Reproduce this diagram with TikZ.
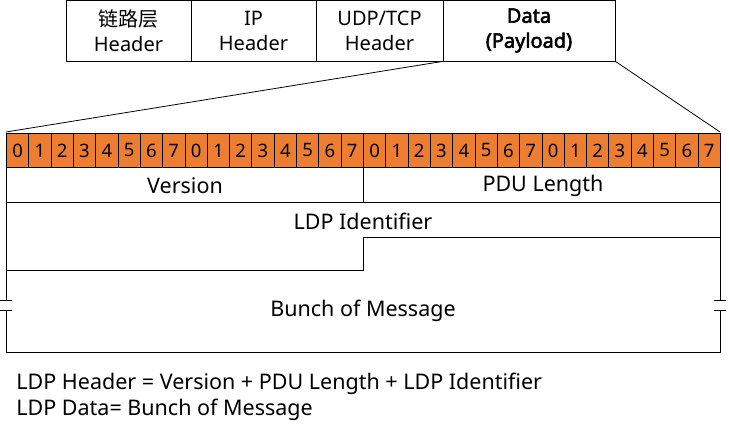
\documentclass[tikz,border=0pt]{standalone}
\usepackage{fontspec}
\setmainfont{Noto Sans}[AutoFakeBold=2.5]
\newfontfamily\cjk{Noto Sans CJK SC}
\begin{document}
\begin{tikzpicture}[x=1pt,y=-1pt,line width=0.8pt,
  lbl/.style={font=\fontsize{21.5}{23}\selectfont,inner sep=0pt},
  bit/.style={font=\fontsize{18.5}{19}\selectfont,inner sep=0pt},
  hb/.style={draw,minimum height=61pt,inner sep=0pt,align=center,font=\fontsize{20}{25}\selectfont}]
\useasboundingbox (0,0) rectangle (729,428);
\definecolor{org}{HTML}{ED7D31}
\node[hb,minimum width=125pt] (h1) at (128.5,30.5) {{\cjk 链路层}\\Header};
\node[hb,minimum width=125pt] (h2) at (253.5,30.5) {IP\\Header};
\node[hb,minimum width=127pt] (h3) at (379.5,30.5) {UDP/TCP\\Header};
\node[hb,minimum width=172pt,font=\fontsize{20}{25}\selectfont\bfseries] (h4) at (529,30.5) {Data\\(Payload)};
\coordinate (bl) at (6,132);
\coordinate (br) at (720,132);
\draw (h4.south west) -- (bl);
\draw (h4.south east) -- (br);
\foreach \i in {0,...,31}{
  \pgfmathtruncatemacro\v{mod(\i,8)}
  \node[draw,fill=org,minimum width=22.3125pt,minimum height=34pt,inner sep=0pt,anchor=north west] (b\i) at ({6+22.3125*\i},133) {};
  \node[bit] at (b\i) {\v};
}
\draw (6,167) -- (6,300);
\draw (6,310) -- (6,352) -- (720,352) -- (720,310);
\draw (720,300) -- (720,167);
\draw (0,300) -- (12,300) (0,310) -- (12,310);
\draw (714,300) -- (726,300) (714,310) -- (726,310);
\draw (363,167) -- (363,202);
\draw (6,202) -- (720,202);
\draw (6,270) -- (363,270) -- (363,237) -- (720,237);
\node[lbl] (ver) at (185,186) {Version};
\node[lbl] (pdu) at (543,186) {PDU Length};
\node[lbl] (id) at (363,221) {LDP Identifier};
\node[lbl] (bm) at (363,311) {Bunch of Message};
\node[lbl,anchor=west] (t1) at (16,384) {LDP Header = Version + PDU Length + LDP Identifier};
\node[lbl,anchor=west] (t2) at (16,410) {LDP Data= Bunch of Message};
\end{tikzpicture}
\end{document}
